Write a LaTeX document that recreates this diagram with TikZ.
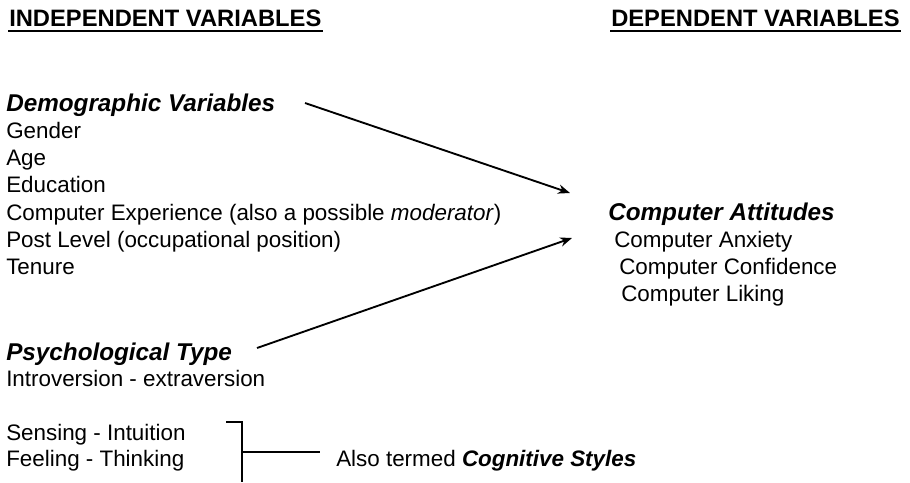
\documentclass[tikz,border=0pt]{standalone}
\usepackage{fontspec}
\setmainfont{Liberation Sans}
\usetikzlibrary{arrows.meta}

\begin{document}
\begin{tikzpicture}[x=0.75pt,y=0.75pt,yscale=-1,xscale=1,
	txt/.style={anchor=base west,inner sep=0.75pt,font=\fontsize{16.8}{20}\selectfont},
	head/.style={anchor=base west,inner sep=0.75pt,font=\fontsize{17.8}{20}\selectfont\bfseries},
	grp/.style={anchor=base west,inner sep=0.75pt,font=\fontsize{18.2}{20}\selectfont\bfseries\itshape},
	lnk/.style={line width=1.4pt,-{Stealth[length=9pt,width=7pt]}},
	brk/.style={line width=1.6pt}]
				\useasboundingbox (0,0) rectangle (910,482);
				
				% Text Node
				\draw (8,26) node (hdrL) [head] {INDEPENDENT VARIABLES};
				% Text Node
				\draw (610,26) node (hdrR) [head] {DEPENDENT VARIABLES};
				%Straight Lines
				\draw [line width=1.4pt] ([yshift=4pt]hdrL.base west) -- ([yshift=4pt]hdrL.base east) ;
				\draw [line width=1.4pt] ([yshift=4pt]hdrR.base west) -- ([yshift=4pt]hdrR.base east) ;
				
				% Text Node
				\draw (5,111) node (demo) [grp] {Demographic Variables};
				\draw (5,138) node (gender) [txt] {Gender};
				\draw (5,165) node (age) [txt] {Age};
				\draw (5,192) node (edu) [txt] {Education};
				\draw (5,220) node (exper) [txt] {Computer Experience (also a possible \textit{moderator})};
				\draw (5,247) node (post) [txt] {Post Level (occupational position)};
				\draw (5,274) node (tenure) [txt] {Tenure};
				
				% Text Node
				\draw (607,220) node (attit) [grp] {Computer Attitudes};
				\draw (613,247) node (anx) [txt] {Computer Anxiety};
				\draw (618,274) node (conf) [txt] {Computer Confidence};
				\draw (620,301) node (like) [txt] {Computer Liking};
				
				% Text Node
				\draw (5,360) node (psych) [grp] {Psychological Type};
				\draw (5,386) node (intro) [txt] {Introversion - extraversion};
				\draw (5,440) node (sens) [txt] {Sensing - Intuition};
				\draw (5,466) node (feel) [txt] {Feeling - Thinking};
				\draw (335,466) node (also) [txt] {Also termed \textbf{\textit{Cognitive Styles}}};
				
				%Straight Lines
				\coordinate (demoOut) at (305,103);
				\coordinate (attIn1) at (570,193);
				\coordinate (psychOut) at (257,348);
				\coordinate (attIn2) at (572,238);
				\draw [lnk] (demoOut) -- (attIn1) ;
				\draw [lnk] (psychOut) -- (attIn2) ;
				
				%Straight Lines
				\coordinate (brTick) at (226,422);
				\coordinate (brTop) at (242,422);
				\coordinate (brBot) at (242,482);
				\coordinate (brMid) at (242,452);
				\coordinate (brEnd) at (320,452);
				\draw [brk] (brTick) -- (brTop) -- (brBot) ;
				\draw [brk] (brMid) -- (brEnd) ;
				
\end{tikzpicture}
\end{document}
